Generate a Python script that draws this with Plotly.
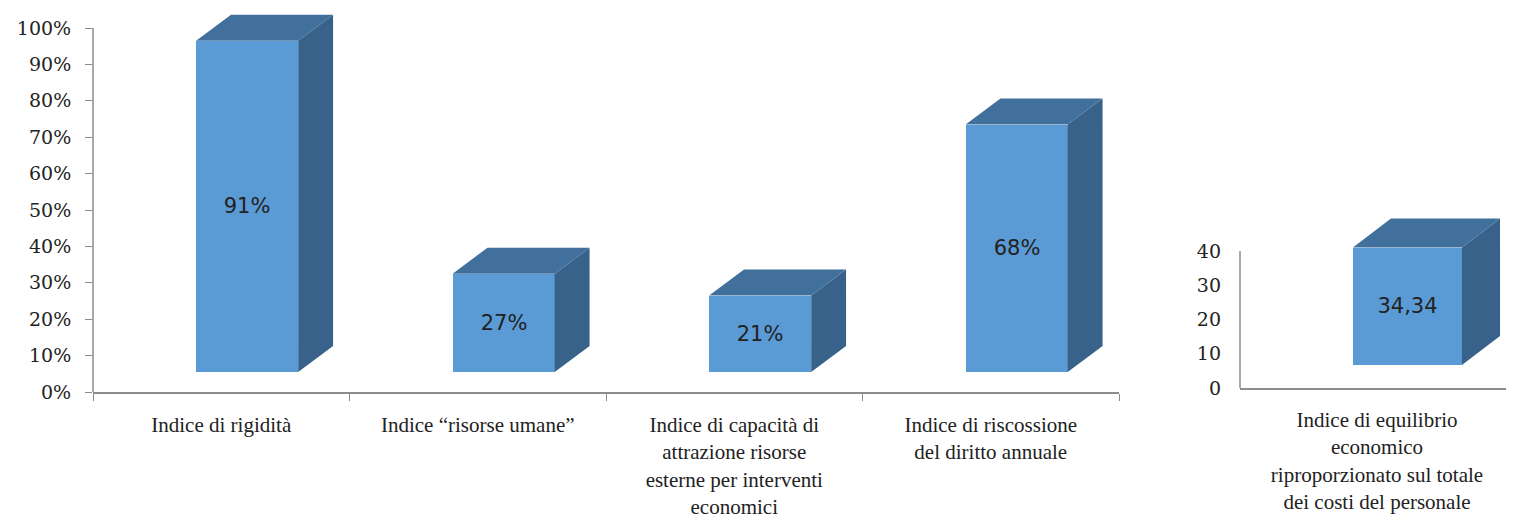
import numpy as np
import plotly.graph_objects as go

# data
left_labels = [
    "Indice di rigidità",
    "Indice “risorse umane”",
    "Indice di capacità di<br>attrazione risorse<br>esterne per interventi<br>economici",
    "Indice di riscossione<br>del diritto annuale",
]
left_values = [0.91, 0.27, 0.21, 0.68]
left_ticks = [0, 0.1, 0.2, 0.3, 0.4, 0.5, 0.6, 0.7, 0.8, 0.9, 1.0]

right_labels = ["Indice di equilibrio<br>economico<br>riproporzionato sul totale<br>dei costi del personale"]
right_values = [34.34]
right_ticks = [0, 10, 20, 30, 40]

FRONT = "#5B9BD5"
SIDE = "#38628A"
TOP = "#41709C"
AXIS = "#8C8C8C"
TXT = "#222222"

# the page body has an 8px margin, so the figure is a bit smaller and
# every position below is measured in window pixels minus that margin
OFF = 8
W, H = 1514 - OFF, 518 - OFF


def xdom(left_px, right_px):
    return [(left_px - OFF) / W, min(1.0, (right_px - OFF) / W)]


def ydom(bottom_px, top_px):
    return [(H - (bottom_px - OFF)) / H, min(1.0, (H - (top_px - OFF)) / H)]


def add_3d_bars(fig, values, xa, ya, shift, half, dx, dy, base, texttemplate):
    x = np.arange(len(values)) + shift
    v = np.array(values, dtype=float)
    fig.add_trace(go.Bar(
        x=x, y=v, base=base, width=2 * half, marker=dict(color=FRONT, line=dict(width=0)),
        texttemplate=texttemplate, textposition="inside", insidetextanchor="middle",
        textangle=0, textfont=dict(family="DejaVu Sans", size=21, color=TXT),
        xaxis=xa, yaxis=ya, showlegend=False, hoverinfo="skip",
    ))
    for xi, vi in zip(x, v):
        xl, xr = xi - half, xi + half
        yb, yt = base, base + vi
        # right side face
        fig.add_trace(go.Scatter(
            x=[xr, xr + dx, xr + dx, xr, xr], y=[yb, yb + dy, yt + dy, yt, yb],
            fill="toself", fillcolor=SIDE, mode="lines", line=dict(width=0),
            xaxis=xa, yaxis=ya, showlegend=False, hoverinfo="skip",
        ))
        # top face
        fig.add_trace(go.Scatter(
            x=[xl, xl + dx, xr + dx, xr, xl], y=[yt, yt + dy, yt + dy, yt, yt],
            fill="toself", fillcolor=TOP, mode="lines", line=dict(width=0),
            xaxis=xa, yaxis=ya, showlegend=False, hoverinfo="skip",
        ))


fig = go.Figure()
add_3d_bars(fig, left_values, "x", "y", 0.101, 0.199, 0.136, 0.0714, 0.055, "%{y:.0%}")
add_3d_bars(fig, right_values, "x2", "y2", 0.111, 0.199, 0.139, 8.47, 6.7, "%{y:.2f}")

xlab = dict(family="Liberation Serif", size=21, color=TXT)
ylab = dict(family="DejaVu Serif", size=19, color=TXT)

fig.update_layout(
    width=W, height=H, margin=dict(l=0, r=0, t=0, b=0),
    paper_bgcolor="white", plot_bgcolor="rgba(0,0,0,0)",
    separators=",.", bargap=0,
    xaxis=dict(
        domain=xdom(93, 1119), range=[-0.5, 3.5], anchor="y", automargin=False,
        tickvals=list(range(len(left_labels))), ticktext=left_labels,
        ticks="", ticklabelstandoff=13, tickfont=xlab,
        minor=dict(tick0=-0.5, dtick=1, ticks="outside", ticklen=7, tickcolor=AXIS),
        showline=True, linecolor=AXIS, linewidth=1.5, showgrid=False, zeroline=False,
    ),
    yaxis=dict(
        domain=ydom(392, 392 - 1.045 * 364), range=[0, 1.045], anchor="x", automargin=False,
        tickvals=left_ticks, tickformat=".0%", ticks="outside", ticklen=7, tickcolor=AXIS,
        ticklabelstandoff=10, tickfont=ylab,
        showline=False, showgrid=False, zeroline=False,
    ),
    xaxis2=dict(
        domain=xdom(1240, 1514), range=[-0.5, 0.5], anchor="y2", automargin=False,
        tickvals=[0], ticktext=right_labels, ticks="", ticklabelstandoff=12, tickfont=xlab,
        showline=True, linecolor=AXIS, linewidth=1.5, showgrid=False, zeroline=False,
    ),
    yaxis2=dict(
        domain=ydom(388, 388 - 52 * 3.425), range=[0, 52], anchor="x2", automargin=False,
        tickvals=right_ticks, ticks="", ticklabelstandoff=18, tickfont=ylab,
        showline=False, showgrid=False, zeroline=False,
    ),
)

# vertical axis lines stop at the top tick, as in the original
fig.add_shape(type="line", xref="x domain", yref="y", x0=0, x1=0, y0=0, y1=left_ticks[-1],
              line=dict(color=AXIS, width=1.5))
fig.add_shape(type="line", xref="x2 domain", yref="y2", x0=0, x1=0, y0=0, y1=right_ticks[-1],
              line=dict(color=AXIS, width=1.5))

fig.write_html("out.html")
